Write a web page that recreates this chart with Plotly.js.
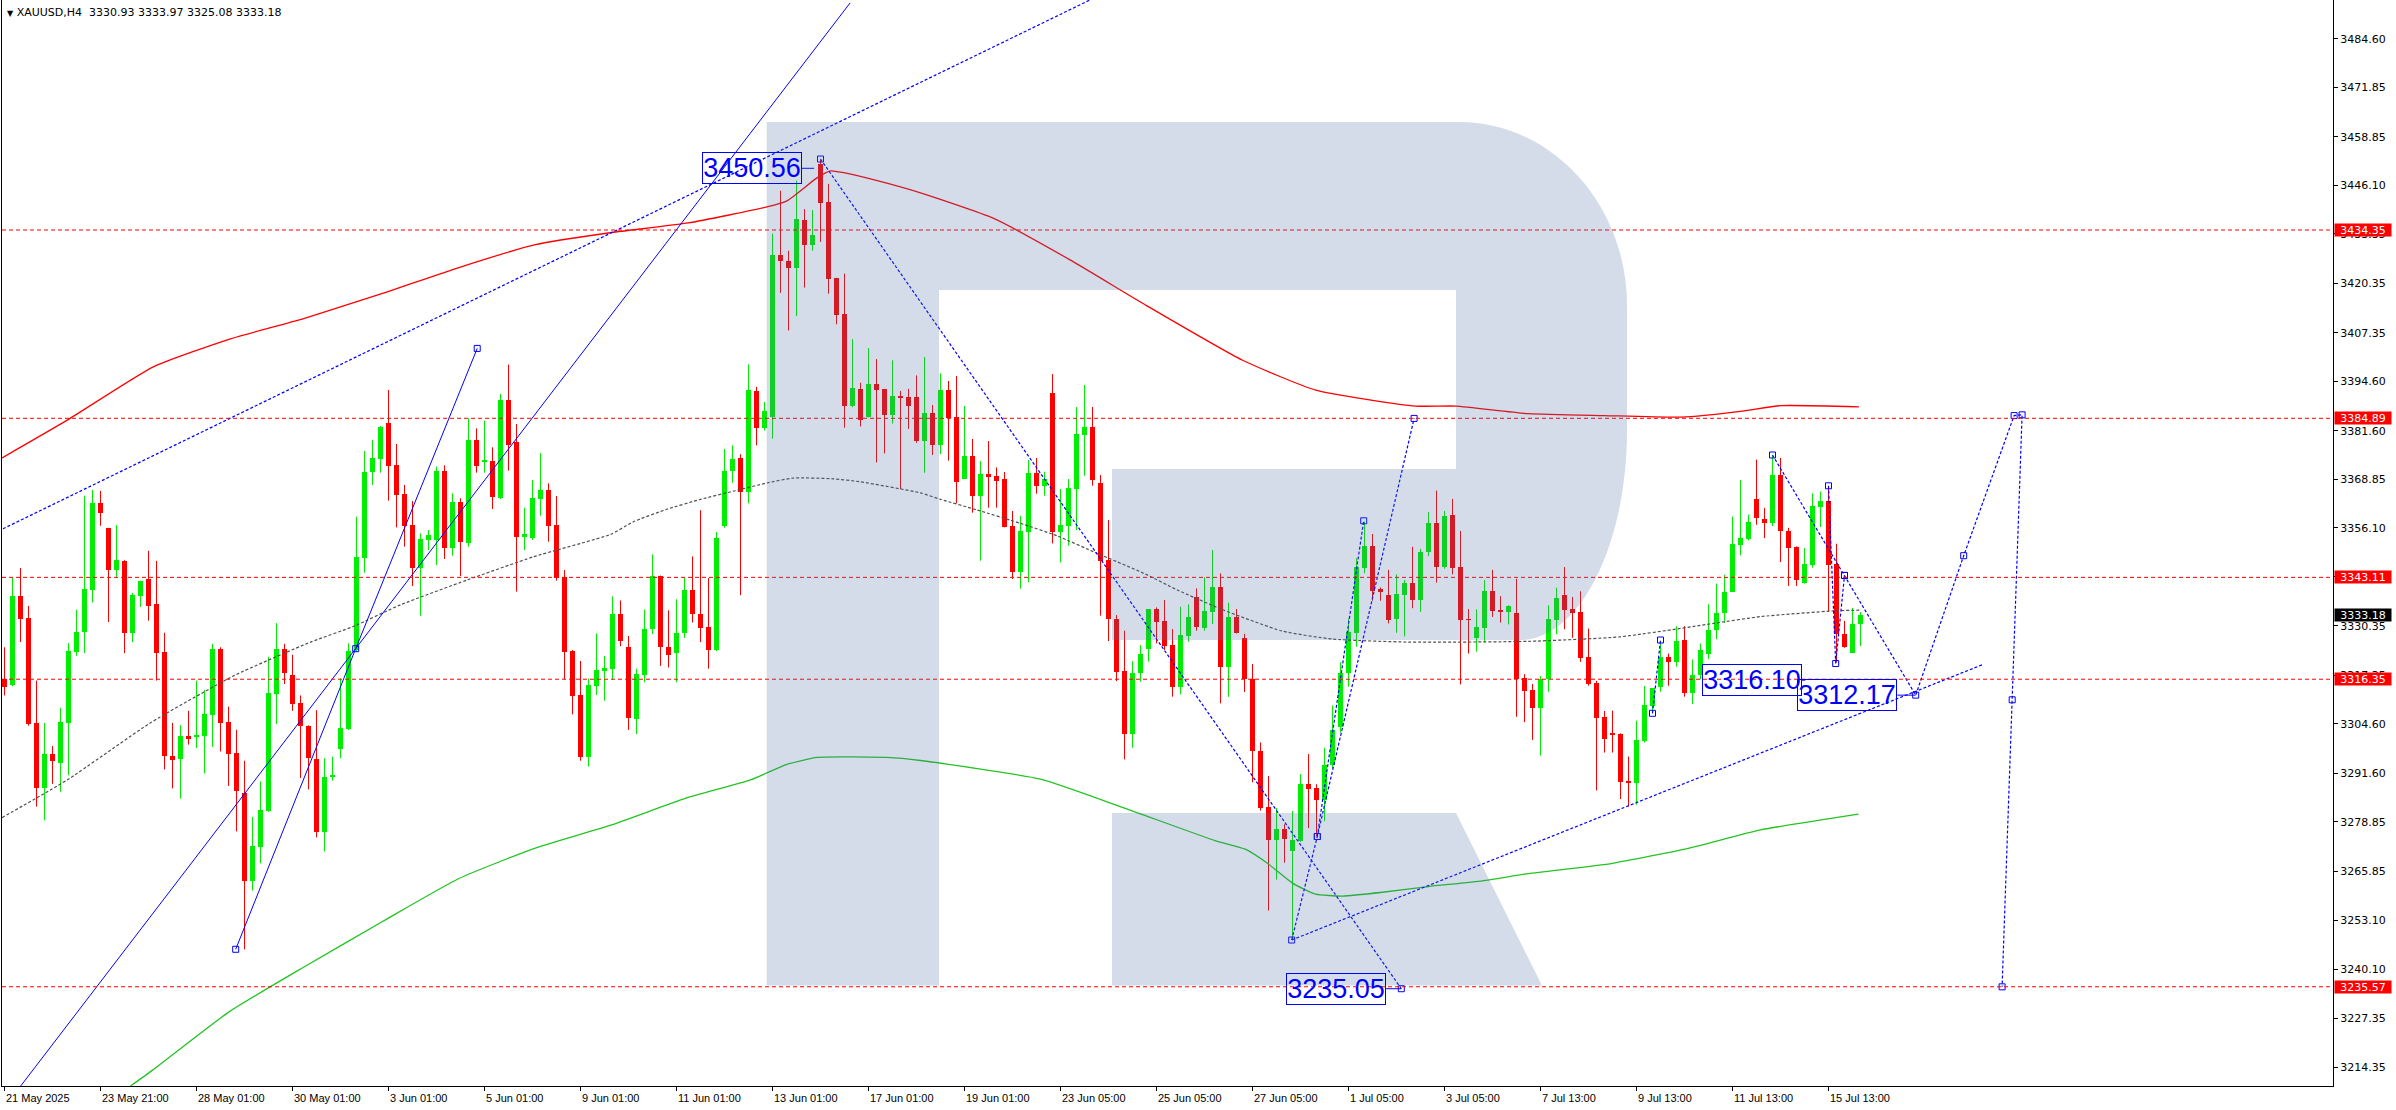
<!DOCTYPE html>
<html>
<head>
<meta charset="utf-8">
<script src="https://cdn.plot.ly/plotly-3.0.1.min.js"></script>
<style>
html,body{margin:0;padding:0;background:#ffffff;overflow:hidden;}
#chart{width:2396px;height:1110px;}
</style>
</head>
<body>
<div id="chart"></div>
<script>
// ---------------- DATA ----------------
const symbolName = "XAUUSD,H4";

const openP = [3316.44,3314.81,3338.23,3332.44,3304.87,3287.69,3296.73,3294.47,3304.87,3323.58,
3328.65,3339.86,3362.64,3356.13,3344.92,3347.45,3328.38,3338.32,3342.66,3336.15,
3323.49,3296.19,3295.28,3301.44,3301.07,3301.53,3306.95,3324.31,3305.14,3297.00,
3286.52,3263.47,3272.32,3281.81,3312.47,3324.31,3317.53,3310.11,3303.97,3295.50,
3276.35,3290.75,3298.02,3303.27,3324.02,3348.28,3370.78,3374.20,3383.75,3372.54,
3365.01,3356.86,3345.65,3352.92,3352.92,3371.05,3350.91,3362.90,3352.13,3379.19,
3373.50,3373.67,3364.04,3389.70,3378.67,3353.80,3353.53,3363.78,3366.06,3356.86,
3343.11,3323.76,3312.20,3296.00,3314.65,3318.59,3319.11,3333.60,3324.69,3305.92,
3317.51,3329.63,3343.58,3324.69,3323.19,3328.56,3339.72,3333.60,3330.06,3324.16,
3356.67,3370.94,3374.38,3365.58,3392.08,3382.43,3385.32,3427.70,3426.31,3424.27,
3437.04,3430.39,3451.60,3441.65,3421.80,3412.36,3388.11,3392.62,3385.32,3393.90,
3392.62,3385.64,3390.69,3390.47,3390.47,3378.92,3386.36,3377.87,3392.32,3385.23,
3368.94,3374.98,3364.56,3370.25,3369.73,3368.94,3356.59,3344.60,3355.11,3370.52,
3367.19,3391.53,3355.11,3356.68,3366.40,3380.59,3382.60,3367.89,3347.66,3332.07,
3318.50,3301.86,3317.89,3324.19,3334.79,3331.64,3325.33,3314.38,3327.78,3337.94,
3329.88,3334.09,3340.48,3319.65,3332.72,3327.07,3316.38,3297.37,3282.71,3274.10,
3277.07,3271.33,3273.81,3288.95,3287.77,3284.70,3293.91,3303.81,3317.87,3328.56,
3345.69,3351.43,3339.94,3338.46,3332.22,3338.46,3341.63,3337.27,3349.65,3357.27,
3345.88,3359.55,3345.88,3332.22,3327.07,3329.84,3339.55,3334.60,3334.00,3333.81,
3316.68,3313.51,3308.88,3316.30,3331.85,3338.40,3334.73,3333.95,3322.07,3315.43,
3306.52,3302.15,3301.98,3289.49,3289.05,3300.23,3309.40,3314.21,3322.07,3320.93,
3326.61,3312.64,3317.44,3323.11,3329.23,3333.77,3339.27,3351.50,3353.07,3363.73,
3358.49,3357.35,3370.10,3355.17,3351.06,3341.72,3346.35,3361.72,3363.20,3346.70,
3328.18,3323.29,3330.93];

const highP = [3324.76,3343.11,3345.55,3335.61,3315.99,3304.87,3298.81,3308.85,3325.84,3334.61,
3364.54,3366.08,3365.81,3356.13,3356.86,3347.63,3339.05,3342.21,3350.07,3347.45,
3328.56,3304.87,3304.33,3308.03,3315.99,3313.55,3325.66,3324.76,3309.12,3303.06,
3294.93,3280.19,3289.50,3322.23,3331.09,3325.66,3322.77,3312.10,3304.24,3308.20,
3295.60,3296.00,3316.58,3325.78,3359.05,3376.30,3379.19,3382.87,3392.33,3378.14,
3367.37,3363.16,3354.67,3355.55,3372.19,3372.54,3365.18,3363.87,3384.88,3382.26,
3384.27,3377.27,3391.28,3399.00,3383.39,3361.42,3368.68,3375.78,3367.81,3364.48,
3345.04,3324.02,3321.13,3316.58,3328.40,3322.45,3338.11,3337.03,3327.70,3319.11,
3334.67,3349.16,3343.58,3334.46,3337.36,3342.94,3348.62,3360.75,3342.94,3355.06,
3376.84,3377.81,3375.45,3399.06,3393.15,3389.18,3433.39,3444.66,3428.89,3447.34,
3439.83,3439.61,3452.90,3446.48,3421.80,3422.88,3405.71,3394.23,3403.35,3400.45,
3392.62,3400.13,3392.08,3392.62,3396.16,3401.00,3388.38,3396.70,3394.68,3396.00,
3388.12,3379.45,3373.67,3378.92,3372.00,3370.78,3360.53,3359.31,3373.93,3374.46,
3370.87,3396.52,3366.31,3368.94,3387.85,3393.63,3387.85,3369.99,3358.17,3333.21,
3329.10,3321.13,3325.33,3334.79,3335.23,3337.15,3329.53,3335.40,3336.01,3340.22,
3343.11,3350.29,3344.16,3336.48,3334.80,3328.26,3320.34,3299.75,3290.93,3282.52,
3278.26,3281.73,3291.43,3296.68,3288.76,3298.36,3309.45,3320.83,3332.22,3348.16,
3357.74,3354.50,3340.44,3345.09,3343.90,3342.42,3351.13,3350.64,3360.24,3365.88,
3360.54,3363.71,3355.29,3334.80,3334.70,3342.42,3345.09,3338.16,3335.78,3342.72,
3317.67,3315.08,3317.18,3335.78,3340.41,3345.82,3337.96,3339.45,3329.66,3315.95,
3308.01,3308.09,3302.15,3296.04,3305.47,3314.56,3313.94,3325.74,3323.11,3330.28,
3330.28,3321.54,3325.74,3336.04,3341.46,3343.81,3359.10,3368.70,3359.62,3374.03,
3361.37,3375.08,3374.47,3356.13,3351.24,3350.80,3365.21,3365.65,3366.96,3351.94,
3331.67,3335.08,3333.97];

const lowP = [3312.10,3314.50,3326.11,3304.15,3282.90,3279.28,3288.87,3286.79,3291.13,3322.50,
3323.22,3336.51,3356.67,3331.36,3343.20,3323.22,3326.11,3335.34,3331.72,3315.99,
3292.66,3287.69,3284.98,3299.17,3298.27,3291.58,3298.54,3297.37,3288.32,3276.39,
3245.38,3260.84,3267.98,3281.50,3304.60,3315.09,3308.03,3290.40,3287.42,3274.80,
3271.10,3289.70,3295.57,3303.01,3323.59,3344.34,3367.37,3370.61,3363.25,3356.25,
3351.17,3340.83,3333.04,3350.29,3346.35,3347.93,3348.80,3343.46,3351.17,3370.61,
3370.61,3361.07,3363.69,3371.14,3339.35,3350.29,3352.92,3359.31,3352.48,3342.24,
3316.32,3307.12,3294.95,3293.38,3312.20,3310.72,3316.22,3325.02,3303.02,3301.95,
3315.57,3328.24,3319.86,3319.43,3315.57,3327.17,3331.24,3326.09,3319.11,3323.73,
3356.14,3367.94,3338.43,3362.57,3377.81,3381.67,3379.53,3417.83,3407.96,3411.72,
3419.23,3428.89,3431.25,3417.62,3409.57,3382.43,3387.79,3382.75,3385.10,3373.30,
3375.66,3383.50,3366.33,3382.10,3378.45,3370.60,3375.24,3375.51,3373.76,3362.55,
3368.94,3360.09,3347.49,3361.41,3361.41,3356.24,3342.67,3340.13,3341.79,3365.09,
3364.56,3352.04,3347.05,3351.43,3355.54,3369.81,3367.19,3333.04,3326.38,3315.87,
3295.30,3298.36,3315.70,3320.95,3325.77,3324.02,3311.76,3312.37,3326.21,3329.10,
3329.10,3330.85,3310.01,3311.73,3328.36,3313.01,3289.25,3281.82,3255.58,3263.71,
3268.16,3247.87,3273.61,3277.27,3275.10,3279.05,3292.92,3302.32,3314.40,3324.89,
3344.20,3336.97,3336.97,3331.03,3328.56,3327.57,3335.00,3334.01,3348.66,3341.73,
3345.39,3343.90,3315.00,3323.11,3323.61,3326.08,3332.72,3331.23,3330.74,3306.48,
3305.09,3300.41,3296.30,3313.07,3328.18,3329.49,3327.22,3320.93,3314.64,3287.13,
3297.09,3297.09,3284.86,3282.94,3283.38,3299.71,3307.39,3313.07,3314.64,3319.62,
3311.76,3309.84,3316.30,3321.63,3326.87,3331.15,3339.27,3348.88,3352.81,3356.91,
3353.42,3356.56,3347.13,3340.84,3340.84,3341.46,3345.65,3356.30,3334.03,3320.76,
3324.60,3323.29,3325.08];

const closeP = [3314.36,3338.23,3332.26,3304.60,3287.69,3296.73,3294.92,3305.14,3323.76,3328.74,
3340.04,3362.64,3360.11,3344.92,3347.63,3328.38,3338.50,3342.21,3335.70,3323.22,
3296.28,3295.19,3301.44,3300.53,3301.80,3307.22,3324.31,3304.87,3296.73,3287.06,
3263.47,3272.59,3282.09,3312.74,3324.31,3317.98,3309.85,3303.97,3295.56,3276.35,
3290.80,3291.19,3303.45,3323.76,3348.45,3370.78,3374.46,3382.69,3372.45,3364.74,
3356.69,3345.65,3353.18,3354.32,3371.05,3350.91,3362.90,3352.40,3379.19,3372.45,
3373.94,3364.30,3389.70,3377.88,3353.80,3354.50,3363.95,3366.06,3356.69,3342.85,
3323.59,3312.03,3295.83,3314.83,3318.77,3319.30,3333.60,3326.30,3306.24,3317.72,
3329.63,3343.58,3324.69,3322.66,3328.56,3339.72,3333.60,3329.85,3324.16,3353.45,
3370.94,3374.16,3365.58,3392.40,3382.43,3386.72,3427.81,3426.10,3424.27,3437.15,
3430.39,3432.96,3441.33,3421.48,3411.93,3388.00,3392.83,3384.57,3393.90,3392.40,
3385.64,3390.69,3390.26,3388.00,3378.88,3386.36,3377.87,3392.32,3384.88,3368.24,
3374.98,3364.56,3370.25,3369.55,3368.50,3356.42,3344.60,3355.28,3370.52,3367.19,
3368.94,3355.11,3356.85,3366.57,3380.76,3382.60,3368.76,3347.49,3332.07,3318.33,
3301.86,3318.06,3322.97,3334.79,3331.46,3325.15,3314.38,3327.96,3332.69,3330.15,
3334.26,3340.48,3319.64,3332.72,3328.56,3316.38,3297.37,3282.52,3274.10,3277.07,
3274.40,3274.10,3288.95,3287.47,3284.70,3293.91,3303.11,3317.96,3328.76,3345.88,
3351.43,3339.65,3339.15,3332.02,3338.75,3341.63,3337.27,3349.84,3357.27,3345.88,
3359.25,3345.69,3332.02,3331.83,3330.04,3339.55,3334.30,3334.00,3335.49,3316.38,
3313.21,3308.88,3316.30,3332.11,3337.70,3334.47,3333.77,3321.98,3315.08,3306.26,
3300.58,3301.72,3289.23,3289.05,3300.41,3309.58,3313.94,3322.07,3320.93,3326.35,
3312.64,3317.44,3323.99,3329.40,3333.86,3339.27,3351.94,3353.42,3357.61,3358.66,
3357.35,3370.10,3355.17,3350.80,3342.33,3346.52,3361.98,3363.20,3346.35,3328.18,
3324.69,3330.98,3333.18];

// time-axis labels (one every 12 H4 bars)
const timeTickIdx = [0,12,24,36,48,60,72,84,96,108,120,132,144,156,168,180,192,204,216,228];
const timeTickText = ["21 May 2025","23 May 21:00","28 May 01:00","30 May 01:00","3 Jun 01:00",
 "5 Jun 01:00","9 Jun 01:00","11 Jun 01:00","13 Jun 01:00","17 Jun 01:00","19 Jun 01:00",
 "23 Jun 05:00","25 Jun 05:00","27 Jun 05:00","1 Jul 05:00","3 Jul 05:00","7 Jul 13:00",
 "9 Jul 13:00","11 Jul 13:00","15 Jul 13:00"];

// price-axis ticks
const priceTicks = [3484.60,3471.85,3458.85,3446.10,3433.35,3420.35,3407.35,3394.60,3381.60,
 3368.85,3356.10,3343.35,3330.35,3317.35,3304.60,3291.60,3278.85,3265.85,3253.10,3240.10,3227.35,3214.35];

// horizontal levels (red dashed)
const levelPrices = [3434.35, 3384.89, 3343.11, 3316.35, 3235.57];

// moving averages
const maRedX = [-0.3,7.84,18.6,28.15,37.7,47.25,56.8,66.35,75.9,85.45,95.3,97.8,101.6,103.25,104.9,109.1,114.5,123.65,133.2,142.75,154.7,163.9,176.4,181.4,190.5,200,209.6,217.25,222,231.8];
const maRedY = [3374.5,3384.4,3398.4,3405.7,3411.3,3417.7,3424.5,3430.5,3433.7,3436.2,3440.4,3442.0,3448.1,3449.9,3449.4,3447.3,3444.1,3437.4,3426.5,3414.5,3400.2,3392.3,3388.1,3388.1,3386.1,3385.6,3385.2,3386.8,3388.2,3387.9];

const maGrayX = [-0.3,7.84,18.25,28.7,38.25,43.6,49.5,57.8,66.1,75.75,78.7,82.8,87,91.2,95.3,98.6,103.6,107,114.5,117,121.6,127,131.6,136.6,142.4,146.6,152.4,159.7,166,175.5,190.5,202,213.6,219.5,228.6,232];
const maGrayY = [3280.0,3289.9,3304.9,3317.3,3326.1,3330.2,3335.9,3342.4,3348.5,3354.4,3357.8,3361.0,3363.6,3365.8,3367.9,3369.2,3369.0,3368.2,3365.3,3363.6,3360.8,3357.3,3354.0,3349.4,3344.2,3339.8,3334.5,3329.0,3326.9,3326.1,3326.3,3327.5,3331.0,3332.8,3334.3,3334.5];

const maGreenX = [15.75,18.6,28.15,37.7,47.25,56.8,66.35,75.9,85.45,93.25,97.8,101.6,110.3,114.5,129.5,140,151.4,155.1,158,161,163.9,167.25,172.25,178,184.75,190.5,201,210.6,219.5,231.75];
const maGreenY = [3209.5,3213.8,3229.1,3241.1,3252.7,3264.0,3272.0,3278.1,3285.3,3289.9,3294.0,3295.8,3295.8,3295.0,3290.1,3282.5,3273.9,3271.7,3267.8,3262.8,3259.9,3259.4,3260.4,3261.9,3263.4,3265.3,3268.0,3272.0,3276.75,3280.9];

// analysis drawings (bar index / price)
const fanSteepX = [28.9, 43.9, 59.09];            // solid
const fanSteepY = [3245.41, 3324.37, 3403.25];
const fanLongX  = [-2, 43.9, 105.7];              // solid
const fanLongY  = [3198.45, 3324.37, 3494.0];
const channelX  = [-3, 140];                      // dotted
const channelY  = [3353.0, 3499.2];
const dropX = [102, 174.6];                       // dotted 3450 -> 3235
const dropY = [3453.0, 3235.05];
const riseAX = [160.9, 164.1, 176.2];
const riseAY = [3247.85, 3275.04, 3384.86];
const riseBX = [164.1, 169.9];
const riseBY = [3275.04, 3357.97];
const supportX = [160.9, 247.4];
const supportY = [3247.85, 3320.3];
const smallZX = [206, 207];
const smallZY = [3307.4, 3326.65];
const zzX = [228, 228.9, 230.0];
const zzY = [3367.16, 3320.48, 3343.62];
const forecastX = [221.0, 230.0, 238.9, 244.9, 251.2, 252.2, 250.96, 249.7];
const forecastY = [3375.25, 3343.62, 3312.17, 3348.8, 3385.6, 3385.8, 3310.95, 3235.55];

// price labels placed on the chart
const tagValues   = [3450.56, 3235.05, 3316.10, 3312.17];
const tagRightIdx = [99.65, 172.7, 224.65, 236.6];
const tagPointIdx = [101.2, 174.6, 225.1, 238.9];

// ---------------- BUILD ----------------
const N = openP.length;
const last = N - 1;

const upX=[],upB=[],upH=[],dnX=[],dnB=[],dnH=[];
const upWX=[],upWY=[],dnWX=[],dnWY=[];
const minBody = 0.27;
for (let i=0;i<N;i++){
  const o=openP[i], c=closeP[i];
  if (c>=o){
    upX.push(i); upB.push(o); upH.push(Math.max(c-o,minBody));
    upWX.push(i,i,null); upWY.push(lowP[i],highP[i],null);
  } else {
    dnX.push(i); dnB.push(c); dnH.push(Math.max(o-c,minBody));
    dnWX.push(i,i,null); dnWY.push(lowP[i],highP[i],null);
  }
}

const GREEN='#00ee00', RED='#ff0000', BLUE='#0000ff';
const dotted='3px,2px';

const traces = [];
traces.push({type:'scatter',mode:'lines',x:upWX,y:upWY,line:{color:GREEN,width:1},hoverinfo:'skip',connectgaps:false});
traces.push({type:'scatter',mode:'lines',x:dnWX,y:dnWY,line:{color:RED,width:1},hoverinfo:'skip',connectgaps:false});
traces.push({type:'bar',x:upX,y:upH,base:upB,width:0.625,marker:{color:GREEN,line:{width:0}},hoverinfo:'skip'});
traces.push({type:'bar',x:dnX,y:dnH,base:dnB,width:0.625,marker:{color:RED,line:{width:0}},hoverinfo:'skip'});

// moving averages
traces.push({type:'scatter',mode:'lines',x:maRedX,y:maRedY,line:{color:'#ff0000',width:1.3,shape:'spline',smoothing:0.5},hoverinfo:'skip'});
traces.push({type:'scatter',mode:'lines',x:maGreenX,y:maGreenY,line:{color:'#22c422',width:1.3,shape:'spline',smoothing:0.5},hoverinfo:'skip'});
traces.push({type:'scatter',mode:'lines',x:maGrayX,y:maGrayY,line:{color:'#505050',width:1.2,dash:dotted,shape:'spline',smoothing:0.5},hoverinfo:'skip'});

// drawings
const sq = {symbol:'square-open',size:6,color:BLUE,line:{width:1,color:BLUE}};
traces.push({type:'scatter',mode:'lines',x:fanLongX,y:fanLongY,line:{color:BLUE,width:1},hoverinfo:'skip'});
traces.push({type:'scatter',mode:'lines+markers',x:fanSteepX,y:fanSteepY,line:{color:BLUE,width:1},marker:sq,hoverinfo:'skip'});
traces.push({type:'scatter',mode:'lines',x:channelX,y:channelY,line:{color:BLUE,width:1.2,dash:dotted},hoverinfo:'skip'});
traces.push({type:'scatter',mode:'lines+markers',x:dropX,y:dropY,line:{color:BLUE,width:1.2,dash:dotted},marker:sq,hoverinfo:'skip'});
traces.push({type:'scatter',mode:'lines+markers',x:riseAX,y:riseAY,line:{color:BLUE,width:1.2,dash:dotted},marker:sq,hoverinfo:'skip'});
traces.push({type:'scatter',mode:'lines+markers',x:riseBX,y:riseBY,line:{color:BLUE,width:1.2,dash:dotted},marker:sq,hoverinfo:'skip'});
traces.push({type:'scatter',mode:'lines',x:supportX,y:supportY,line:{color:BLUE,width:1.2,dash:dotted},hoverinfo:'skip'});
traces.push({type:'scatter',mode:'lines+markers',x:smallZX,y:smallZY,line:{color:BLUE,width:1.2,dash:dotted},marker:sq,hoverinfo:'skip'});
traces.push({type:'scatter',mode:'lines+markers',x:zzX,y:zzY,line:{color:BLUE,width:1.2,dash:dotted},marker:sq,hoverinfo:'skip'});
traces.push({type:'scatter',mode:'lines+markers',x:forecastX,y:forecastY,line:{color:BLUE,width:1.2,dash:dotted},marker:sq,hoverinfo:'skip'});
// connectors from tags
for (let k=0;k<tagValues.length;k++){
  traces.push({type:'scatter',mode:'lines',x:[tagRightIdx[k],tagPointIdx[k]],y:[tagValues[k],tagValues[k]],line:{color:BLUE,width:1},hoverinfo:'skip'});
}

// ---------------- LAYOUT ----------------
const W=2396,H=1110, L=2, R=63, T=0, B=24;
const plotW=W-L-R, plotH=H-T-B;
function pp(X,Y){ return ((X-L)/plotW).toFixed(5)+','+(1-(Y-T)/plotH).toFixed(5); }

const shapes = [];
levelPrices.forEach(p=>{
  shapes.push({type:'line',xref:'paper',x0:0,x1:1,yref:'y',y0:p,y1:p,line:{color:RED,width:1,dash:'4px,3px'},layer:'above'});
});
// watermark "R"
const rPath = 'M'+pp(766.7,122)+' L'+pp(1459,122)+' C'+pp(1551.8,122)+' '+pp(1627,204.2)+' '+pp(1627,305.6)+
 ' L'+pp(1627,430)+' C'+pp(1627,546)+' '+pp(1579.1,640)+' '+pp(1520,640)+
 ' L'+pp(1112,640)+' L'+pp(1112,469)+' L'+pp(1456,469)+' L'+pp(1456,290)+' L'+pp(939,290)+
 ' L'+pp(939,985.5)+' L'+pp(766.7,985.5)+' Z'+
 ' M'+pp(1112,813)+' L'+pp(1456,813)+' L'+pp(1542,985.5)+' L'+pp(1112,985.5)+' Z';
shapes.push({type:'path',xref:'paper',yref:'paper',path:rPath,fillcolor:'rgba(74,111,160,0.245)',line:{width:0},layer:'above'});

const annotations = [];
// header
annotations.push({xref:'paper',yref:'paper',x:0,y:1,xanchor:'left',yanchor:'top',xshift:3,yshift:-4,showarrow:false,
  text:'<span style="font-size:8px">▼</span> '+symbolName+'&nbsp;&nbsp;'+openP[last].toFixed(2)+' '+highP[last].toFixed(2)+' '+lowP[last].toFixed(2)+' '+closeP[last].toFixed(2),
  font:{family:'DejaVu Sans',size:11,color:'#000'}});
// time labels
timeTickIdx.forEach((t,k)=>{
  annotations.push({xref:'x',yref:'paper',x:t,y:0,xanchor:'left',yanchor:'top',xshift:-1,yshift:-4,showarrow:false,
    text:timeTickText[k],font:{family:'Liberation Sans',size:11,color:'#000'}});
});
// level labels on price scale
levelPrices.forEach(p=>{
  annotations.push({xref:'paper',yref:'y',x:1,y:p,xanchor:'left',yanchor:'middle',xshift:1,showarrow:false,
    text:p.toFixed(2),bgcolor:RED,borderpad:0,width:56,height:12,align:'center',
    font:{family:'DejaVu Sans',size:11,color:'#fff'}});
});
annotations.push({xref:'paper',yref:'y',x:1,y:closeP[last],xanchor:'left',yanchor:'middle',xshift:1,showarrow:false,
  text:closeP[last].toFixed(2),bgcolor:'#000',borderpad:0,width:56,height:12,align:'center',
  font:{family:'DejaVu Sans',size:11,color:'#fff'}});
// chart tags
tagValues.forEach((v,k)=>{
  annotations.push({xref:'x',yref:'y',x:tagRightIdx[k],y:v,xanchor:'right',yanchor:'middle',showarrow:false,
    text:v.toFixed(2),bordercolor:BLUE,borderwidth:1,borderpad:1,width:96,height:28,align:'center',
    bgcolor:'rgba(255,255,255,0)',font:{family:'Liberation Sans',size:27,color:BLUE}});
});

const layout = {
  width:W,height:H,
  margin:{l:L,r:R,t:T,b:B,pad:0},
  paper_bgcolor:'#ffffff',plot_bgcolor:'#ffffff',
  showlegend:false,barmode:'overlay',bargap:0,
  xaxis:{range:[-0.3125,291.0625],showgrid:false,zeroline:false,showline:true,linecolor:'#000',linewidth:1,mirror:true,
    ticks:'outside',ticklen:4,tickcolor:'#000',tickwidth:1,tickmode:'array',tickvals:timeTickIdx,showticklabels:false,fixedrange:true},
  yaxis:{range:[3209.50,3494.77],side:'right',showgrid:false,zeroline:false,showline:true,linecolor:'#000',linewidth:1,mirror:true,
    ticks:'outside',ticklen:4,tickcolor:'#000',tickwidth:1,tickmode:'array',tickvals:priceTicks,ticktext:priceTicks.map(v=>v.toFixed(2)),
    tickfont:{family:'DejaVu Sans',size:11,color:'#000'},fixedrange:true},
  shapes:shapes,annotations:annotations
};

Plotly.newPlot('chart',traces,layout,{displayModeBar:false,staticPlot:true});
</script>
</body>
</html>
